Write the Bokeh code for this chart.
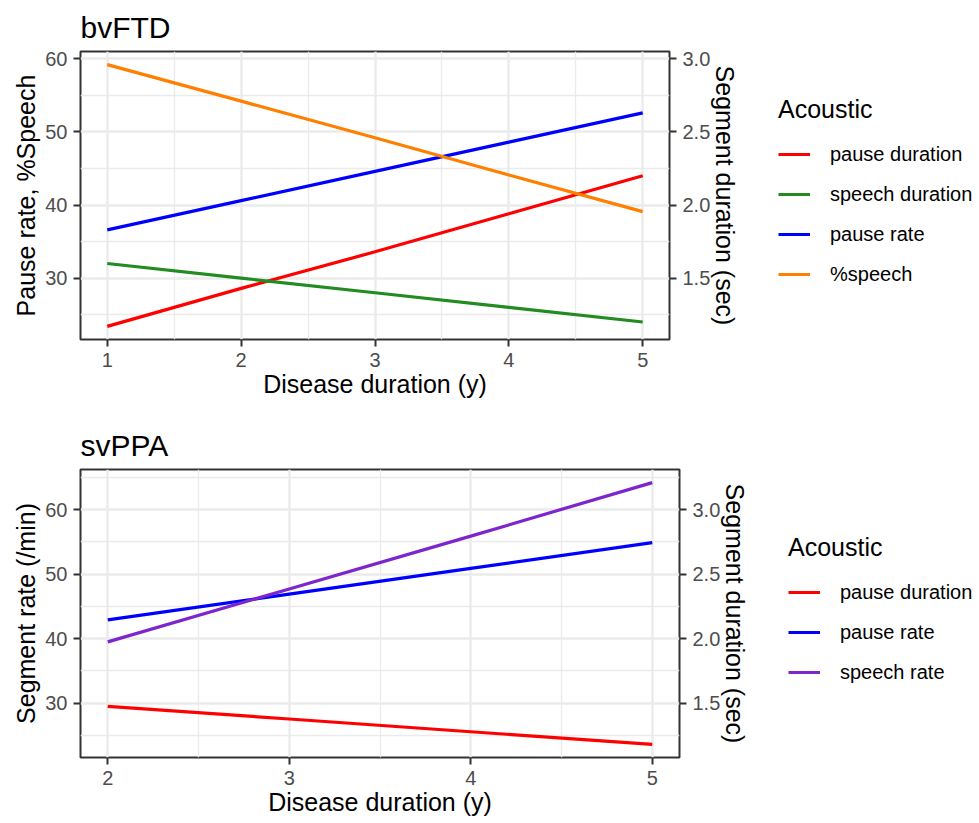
from bokeh.plotting import figure
from bokeh.models import Range1d, LinearAxis, FixedTicker, Legend, LegendItem
from bokeh.layouts import column, row
from bokeh.embed import file_html
from bokeh.resources import INLINE

FONT = "Liberation Sans"
SEC_SCALE = 20.0  # right axis (sec) = left axis / 20

# ---------------- bvFTD ----------------
bv_title = "bvFTD"
bv_years = [1, 2, 3, 4, 5]
bv_pause_duration = [1.17, 1.43, 1.68, 1.94, 2.20]    # sec (right axis)
bv_speech_duration = [1.60, 1.50, 1.40, 1.30, 1.20]   # sec (right axis)
bv_pause_rate = [36.6, 40.6, 44.6, 48.6, 52.6]        # left axis
bv_pct_speech = [59.2, 54.2, 49.2, 44.1, 39.1]        # left axis
bv_xticks = [1, 2, 3, 4, 5]
bv_yticks = [30, 40, 50, 60]
bv_rticks = [1.5, 2.0, 2.5, 3.0]
bv_ylabel = "Pause rate, %Speech"

# ---------------- svPPA ----------------
sv_title = "svPPA"
sv_years = [2, 3, 4, 5]
sv_pause_duration = [1.475, 1.377, 1.278, 1.18]       # sec (right axis)
sv_pause_rate = [42.9, 46.9, 50.9, 54.9]              # left axis
sv_speech_rate = [39.5, 47.7, 55.9, 64.2]             # left axis
sv_xticks = [2, 3, 4, 5]
sv_yticks = [30, 40, 50, 60]
sv_rticks = [1.5, 2.0, 2.5, 3.0]
sv_ylabel = "Segment rate (/min)"

xlabel = "Disease duration (y)"
rlabel = "Segment duration (sec)"
legend_title = "Acoustic"

RED = "#FF0000"
GREEN = "#228B22"
BLUE = "#0000FF"
ORANGE = "#FF7F00"
PURPLE = "#7D26CD"


def mids(t):
    out = [(a + b) / 2 for a, b in zip(t[:-1], t[1:])]
    step = t[1] - t[0]
    return [t[0] - step / 2] + out + [t[-1] + step / 2]


def make_panel(title, years, series, ylabel, xticks, yticks, rticks,
               left_b, top_b, bottom_b, right_b, fw, fh, leg_w, legend_loc):
    # series: (label, values, color, on_right)
    vals = []
    for _, v, _, right in series:
        vals += [x * SEC_SCALE if right else x for x in v]
    lo, hi = min(vals), max(vals)
    pad = 0.05 * (hi - lo)
    xlo, xhi = min(years), max(years)
    xpad = 0.05 * (xhi - xlo)

    p = figure(frame_width=fw, frame_height=fh,
               x_range=Range1d(xlo - xpad, xhi + xpad),
               y_range=Range1d(lo - pad, hi + pad),
               output_backend="svg", toolbar_location=None,
               min_border_left=left_b, min_border_top=top_b,
               min_border_right=right_b, min_border_bottom=bottom_b)
    p.extra_y_ranges = {"sec": Range1d((lo - pad) / SEC_SCALE, (hi + pad) / SEC_SCALE)}

    p.title.text = title
    p.title.text_font = FONT
    p.title.text_font_size = "30px"
    p.title.text_font_style = "normal"
    p.title.text_color = "black"
    p.title.standoff = 15

    for label, v, color, right in series:
        kw = {"y_range_name": "sec"} if right else {}
        p.line(years, v, line_color=color, line_width=3.2, **kw)

    xt = FixedTicker(ticks=xticks, minor_ticks=mids(xticks))
    yt = FixedTicker(ticks=yticks, minor_ticks=mids(yticks))
    p.xaxis.ticker = xt
    p.yaxis.ticker = yt
    p.xgrid.ticker = xt
    p.ygrid.ticker = yt
    p.xaxis.axis_label = xlabel
    p.yaxis.axis_label = ylabel

    rax = LinearAxis(y_range_name="sec", axis_label=rlabel,
                     ticker=FixedTicker(ticks=rticks),
                     major_label_overrides={t: "%.1f" % t for t in rticks})
    p.add_layout(rax, "right")

    for g in (p.xgrid[0], p.ygrid[0]):
        g.grid_line_color = "#EBEBEB"
        g.grid_line_width = 2.4
        g.minor_grid_line_color = "#EBEBEB"
        g.minor_grid_line_width = 1.3

    p.outline_line_color = "#333333"
    p.outline_line_width = 2
    p.background_fill_color = "white"
    p.border_fill_color = "white"

    for ax in list(p.xaxis) + list(p.yaxis):
        ax.axis_line_color = None
        ax.major_tick_line_color = "#333333"
        ax.major_tick_line_width = 2
        ax.major_tick_out = 7
        ax.major_tick_in = 0
        ax.minor_tick_line_color = None
        ax.major_label_text_font = FONT
        ax.major_label_text_font_size = "20px"
        ax.major_label_text_color = "#4D4D4D"
        ax.major_label_standoff = 6
        ax.axis_label_text_font = FONT
        ax.axis_label_text_font_size = "25px"
        ax.axis_label_text_font_style = "normal"
        ax.axis_label_text_color = "black"
    p.xaxis[0].axis_label_standoff = 0
    p.yaxis[0].axis_label_standoff = 2
    rax.axis_label_standoff = -2

    # legend lives in a side figure of its own, beside the panel
    total_h = top_b + fh + bottom_b
    lg = figure(width=leg_w, height=total_h, x_range=Range1d(0, 1),
                y_range=Range1d(0, 1), output_backend="svg",
                toolbar_location=None, min_border=0)
    lg.axis.visible = False
    lg.grid.visible = False
    lg.outline_line_color = None
    lg.background_fill_color = "white"
    lg.border_fill_color = "white"
    items = []
    for label, v, color, right in series:
        r = lg.line(years, v, line_color=color, line_width=3.2, visible=False)
        items.append(LegendItem(label=label, renderers=[r]))
    legend = Legend(items=items, title=legend_title, location=legend_loc,
                    border_line_color=None, background_fill_alpha=0,
                    inactive_fill_alpha=0,
                    label_text_font=FONT, label_text_font_size="20px",
                    label_text_color="black",
                    title_text_font=FONT, title_text_font_size="25px",
                    title_text_font_style="normal", title_text_color="black",
                    glyph_width=32, glyph_height=30, label_height=30,
                    label_standoff=20, spacing=10, padding=0,
                    margin=0, title_standoff=15)
    lg.add_layout(legend, "center")
    return row(p, lg)


r1 = make_panel(bv_title, bv_years,
                [("pause duration", bv_pause_duration, RED, True),
                 ("speech duration", bv_speech_duration, GREEN, True),
                 ("pause rate", bv_pause_rate, BLUE, False),
                 ("%speech", bv_pct_speech, ORANGE, False)],
                bv_ylabel, bv_xticks, bv_yticks, bv_rticks,
                left_b=80, top_b=51, bottom_b=71, right_b=90, fw=589, fh=288,
                leg_w=219, legend_loc=(19, 50))

r2 = make_panel(sv_title, sv_years,
                [("pause duration", sv_pause_duration, RED, True),
                 ("pause rate", sv_pause_rate, BLUE, False),
                 ("speech rate", sv_speech_rate, PURPLE, False)],
                sv_ylabel, sv_xticks, sv_yticks, sv_rticks,
                left_b=80, top_b=59, bottom_b=65, right_b=90, fw=599, fh=288,
                leg_w=209, legend_loc=(19, 70))

layout = column(r1, r2)
open("out.html", "w").write(file_html(layout, INLINE))
